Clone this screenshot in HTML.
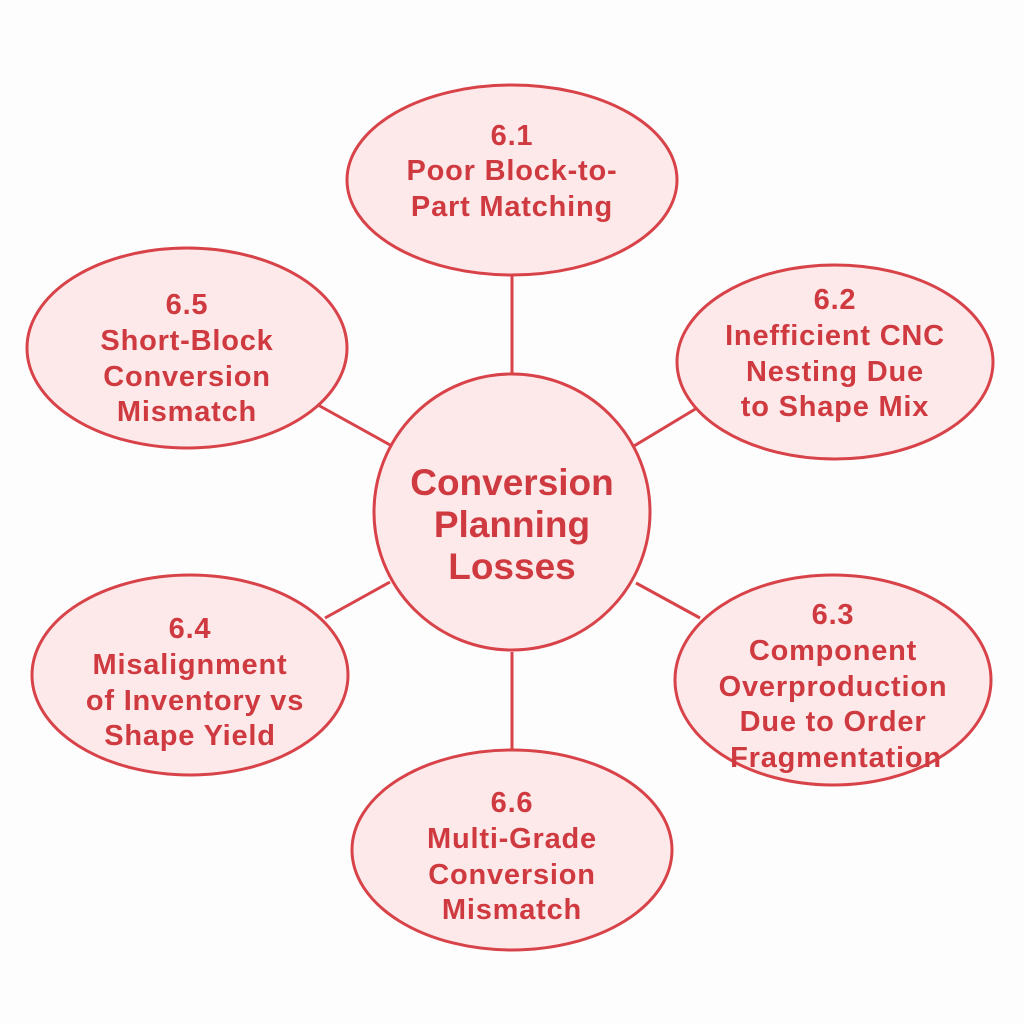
<!DOCTYPE html>
<html><head><meta charset="utf-8"><style>
html,body{margin:0;padding:0;background:#fdfdfd;}
svg{display:block;}
text{font-family:"Liberation Sans",sans-serif;font-weight:bold;fill:#cf3a40;text-anchor:middle;}
</style></head><body>
<svg width="1024" height="1024" viewBox="0 0 1024 1024">
<g stroke="#d8434a" stroke-width="3">
<line x1="512" y1="275" x2="512" y2="380"/>
<line x1="318" y1="405" x2="392" y2="446"/>
<line x1="702" y1="405" x2="634" y2="446"/>
<line x1="325" y1="618" x2="390" y2="582"/>
<line x1="636" y1="583" x2="700" y2="618"/>
<line x1="512" y1="652" x2="512" y2="750"/>
</g>
<g stroke="#d8434a" stroke-width="3" fill="#fde9e9">
<ellipse cx="512" cy="180" rx="165" ry="95"/>
<ellipse cx="187" cy="348" rx="160" ry="100"/>
<ellipse cx="835" cy="362" rx="158" ry="97"/>
<ellipse cx="190" cy="675" rx="158" ry="100"/>
<ellipse cx="833" cy="680" rx="158" ry="105"/>
<ellipse cx="512" cy="850" rx="160" ry="100"/>
<circle cx="512" cy="512" r="138"/>
</g>
<g font-size="29" letter-spacing="0.8">
<text x="512" y="145">6.1</text>
<text x="512" y="180">Poor Block-to-</text>
<text x="512" y="216">Part Matching</text>
<text x="187" y="314">6.5</text>
<text x="187" y="350">Short-Block</text>
<text x="187" y="386">Conversion</text>
<text x="187" y="421">Mismatch</text>
<text x="835" y="309">6.2</text>
<text x="835" y="345">Inefficient CNC</text>
<text x="835" y="381">Nesting Due</text>
<text x="835" y="416">to Shape Mix</text>
<text x="190" y="638">6.4</text>
<text x="190" y="674">Misalignment</text>
<text x="195" y="710">of Inventory vs</text>
<text x="190" y="745">Shape Yield</text>
<text x="833" y="624">6.3</text>
<text x="833" y="660">Component</text>
<text x="833" y="696">Overproduction</text>
<text x="833" y="731">Due to Order</text>
<text x="836" y="767">Fragmentation</text>
<text x="512" y="812">6.6</text>
<text x="512" y="848">Multi-Grade</text>
<text x="512" y="884">Conversion</text>
<text x="512" y="919">Mismatch</text>
</g>
<g font-size="37">
<text x="512" y="495">Conversion</text>
<text x="512" y="537">Planning</text>
<text x="512" y="579">Losses</text>
</g>
</svg>
</body></html>
